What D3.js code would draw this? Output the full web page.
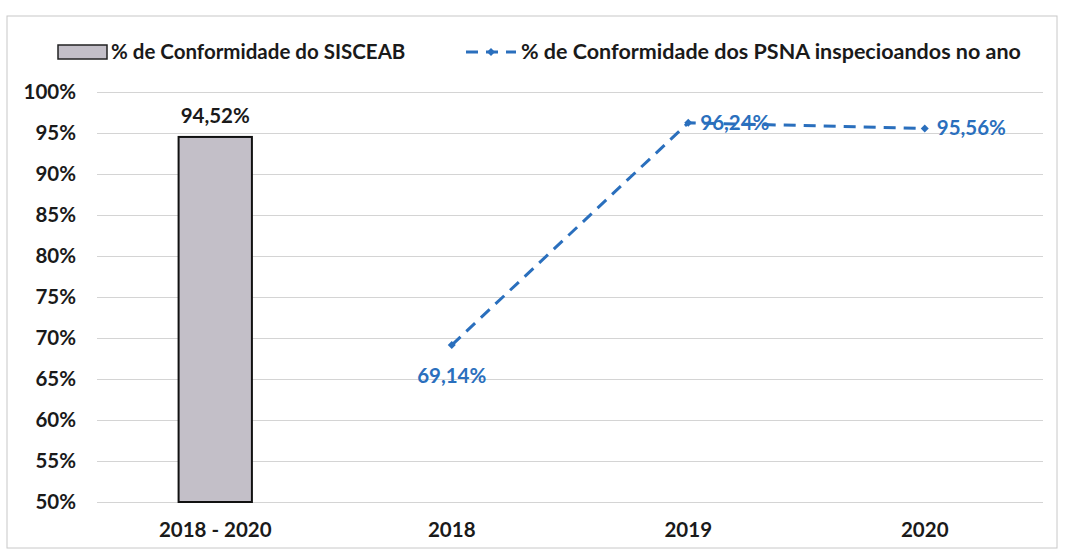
<!DOCTYPE html>
<html>
<head>
<meta charset="utf-8">
<script src="https://cdn.jsdelivr.net/npm/d3@7"></script>
<style>
  body { margin: 0; background: #fff; }
  text { font-family: Lato, "Open Sans", sans-serif; font-weight: 700; }
</style>
</head>
<body>
<div id="container"></div>
<script>
/* DATA */
const categories = ["2018 - 2020", "2018", "2019", "2020"];
const sisceabValues = [94.52, null, null, null];
const psnaValues = [null, 69.14, 96.24, 95.56];
const yTicks = [50, 55, 60, 65, 70, 75, 80, 85, 90, 95, 100];
const legendLabels = ["% de Conformidade do SISCEAB", "% de Conformidade dos PSNA inspecioandos no ano"];

/* CONSTANTS */
const width = 1068;
const height = 553;
const plot = { left: 97, right: 1043, top: 92, bottom: 502 };
const blue = "#2a6fbd";
const barFill = "#c3bfc8";
const fontSize = "20.5px";

const svg = d3.select("#container")
    .append("svg")
    .attr("width", width)
    .attr("height", height);

// chart border
svg.append("rect")
    .attr("x", 7).attr("y", 16)
    .attr("width", 1050).attr("height", 532)
    .attr("fill", "none")
    .attr("stroke", "#c8c8c8");

/* SCALES */
const xScale = d3.scaleBand()
    .domain(categories)
    .range([plot.left, plot.right]);

const yScale = d3.scaleLinear()
    .domain([50, 100])
    .range([plot.bottom, plot.top]);

/* AXES */
const yAxis = d3.axisLeft(yScale)
    .tickValues(yTicks)
    .tickFormat(d => d + "%")
    .tickSize(-(plot.right - plot.left))
    .tickPadding(21);

const gy = svg.append("g")
    .attr("transform", `translate(${plot.left}, 0)`)
    .call(yAxis);
gy.select(".domain").remove();
gy.selectAll("line").attr("stroke", "#d4d4d4");
gy.selectAll("text")
    .attr("fill", "#1a1a1a")
    .style("font-size", fontSize);

const xAxis = d3.axisBottom(xScale).tickSize(0).tickPadding(20);
const gx = svg.append("g")
    .attr("transform", `translate(0, ${plot.bottom})`)
    .call(xAxis);
gx.select(".domain").remove();
gx.selectAll("text")
    .attr("fill", "#1a1a1a")
    .style("font-size", fontSize);

/* BARS */
const barData = categories.map((c, i) => ({ cat: c, v: sisceabValues[i] })).filter(d => d.v != null);
const barW = xScale.bandwidth() * 0.31;

svg.selectAll(".bar")
    .data(barData)
    .join("rect")
    .attr("class", "bar")
    .attr("x", d => xScale(d.cat) + (xScale.bandwidth() - barW) / 2)
    .attr("y", d => yScale(d.v))
    .attr("width", barW)
    .attr("height", d => yScale(50) - yScale(d.v))
    .attr("fill", barFill)
    .attr("stroke", "#111")
    .attr("stroke-width", 2);

svg.selectAll(".barLabel")
    .data(barData)
    .join("text")
    .attr("class", "barLabel")
    .attr("x", d => xScale(d.cat) + xScale.bandwidth() / 2)
    .attr("y", d => yScale(d.v) - 14)
    .attr("text-anchor", "middle")
    .attr("fill", "#1a1a1a")
    .style("font-size", fontSize)
    .text(d => d.v.toFixed(2).replace(".", ",") + "%");

/* LINE */
const lineData = categories.map((c, i) => ({ cat: c, v: psnaValues[i] })).filter(d => d.v != null);
const cx = d => xScale(d.cat) + xScale.bandwidth() / 2;

const line = d3.line()
    .x(cx)
    .y(d => yScale(d.v));

svg.append("path")
    .datum(lineData)
    .attr("d", line)
    .attr("fill", "none")
    .attr("stroke", blue)
    .attr("stroke-width", 3)
    .attr("stroke-dasharray", "12 8");

const diamond = d3.symbol().type(d3.symbolSquare).size(32);
svg.selectAll(".marker")
    .data(lineData)
    .join("path")
    .attr("class", "marker")
    .attr("d", diamond)
    .attr("transform", d => `translate(${cx(d)}, ${yScale(d.v)}) rotate(45)`)
    .attr("fill", blue);

svg.selectAll(".lineLabel")
    .data(lineData)
    .join("text")
    .attr("class", "lineLabel")
    .attr("x", (d, i) => i === 0 ? cx(d) : cx(d) + 12)
    .attr("y", (d, i) => i === 0 ? yScale(d.v) + 38 : yScale(d.v) + 7)
    .attr("text-anchor", (d, i) => i === 0 ? "middle" : "start")
    .attr("fill", blue)
    .style("font-size", fontSize)
    .text(d => d.v.toFixed(2).replace(".", ",") + "%");

/* LEGEND */
const legend = svg.append("g").attr("transform", "translate(0, 52)");

legend.append("rect")
    .attr("x", 58).attr("y", -7)
    .attr("width", 49).attr("height", 14)
    .attr("fill", barFill)
    .attr("stroke", "#222")
    .attr("stroke-width", 1.5);
legend.append("text")
    .attr("x", 111).attr("y", 7)
    .attr("fill", "#1a1a1a")
    .style("font-size", "20.5px")
    .text(legendLabels[0]);

legend.append("line")
    .attr("x1", 466).attr("x2", 516)
    .attr("y1", 0).attr("y2", 0)
    .attr("stroke", blue)
    .attr("stroke-width", 3)
    .attr("stroke-dasharray", "12 8");
legend.append("path")
    .attr("d", diamond)
    .attr("transform", "translate(491, 0) rotate(45)")
    .attr("fill", blue);
legend.append("text")
    .attr("x", 521).attr("y", 7)
    .attr("fill", "#1a1a1a")
    .style("font-size", "21.5px")
    .text(legendLabels[1]);
</script>
</body>
</html>
